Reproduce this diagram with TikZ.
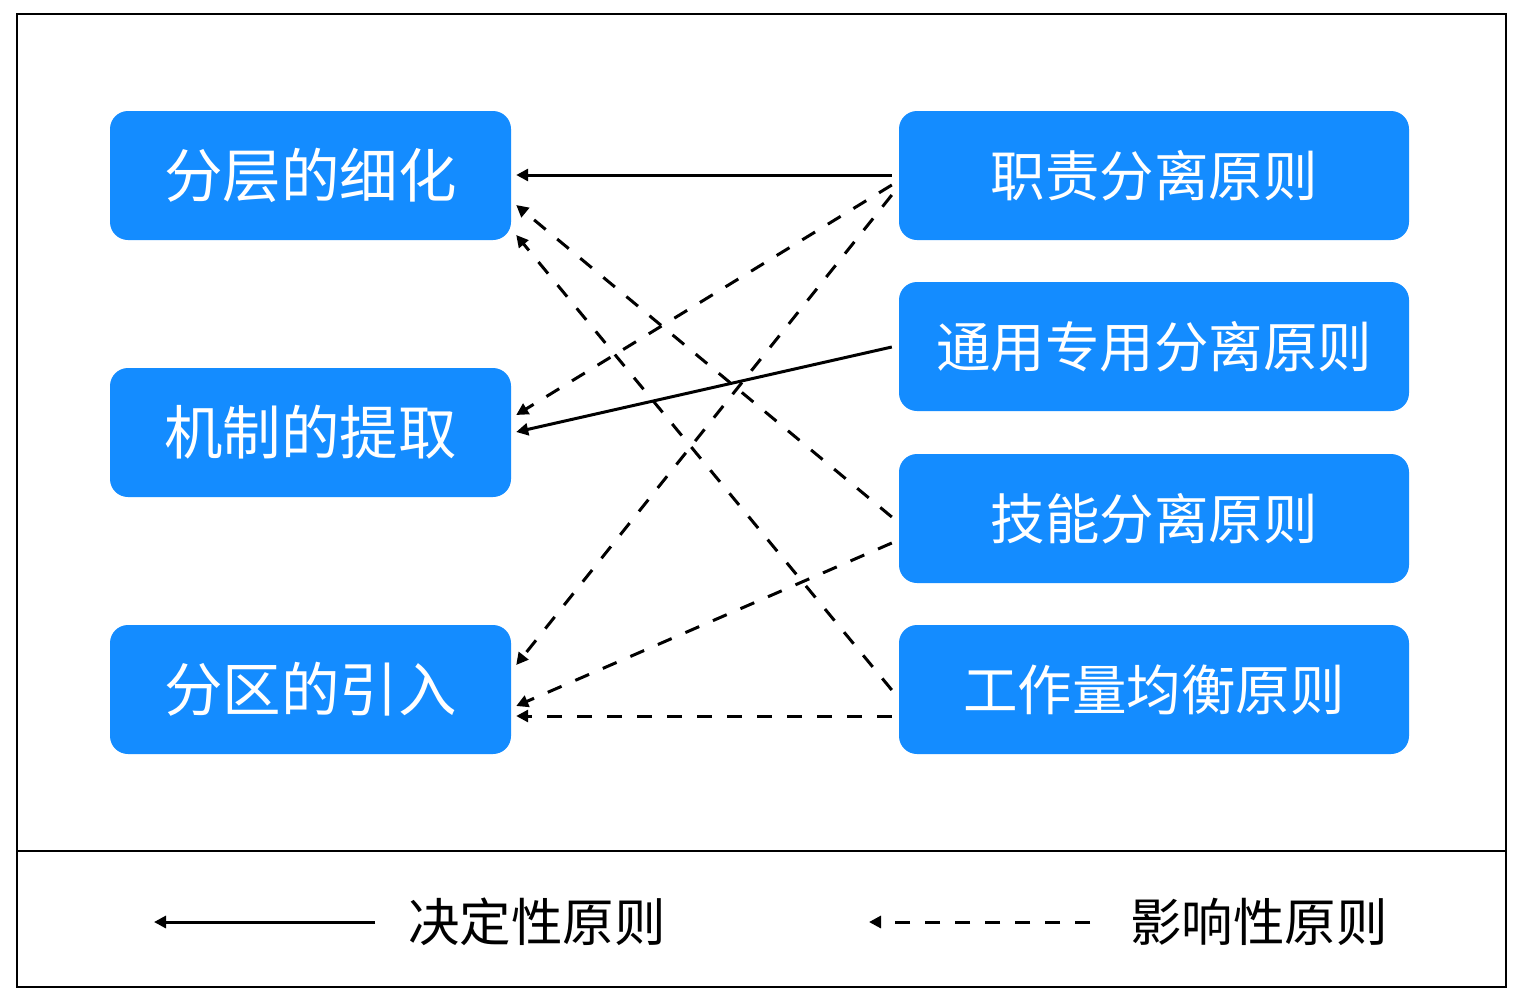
\documentclass[tikz,border=0pt]{standalone}
\usepackage{fontspec}
\newfontfamily\cjk{Noto Sans CJK SC}
\usetikzlibrary{arrows.meta,calc}
\definecolor{boxblue}{RGB}{20,140,255}
\begin{document}
\begin{tikzpicture}[x=1pt,y=-1pt,
  box/.style={fill=boxblue,rounded corners=18pt,text=white,inner sep=0pt,minimum height=129pt},
  lbox/.style={box,minimum width=401pt,font=\cjk\fontsize{58.5}{60}\selectfont},
  rbox/.style={box,minimum width=510pt,font=\cjk\fontsize{54.5}{60}\selectfont},
  con/.style={line width=3pt,-{Triangle[length=12pt,width=12pt]}},
  dcon/.style={con,dash pattern=on 15pt off 15pt},
  legtext/.style={font=\cjk\fontsize{51.5}{56}\selectfont,anchor=west,inner sep=0pt}]
\useasboundingbox (0,0) rectangle (1522,1002);
\fill[white] (0,0) rectangle (1522,1002);
\draw[line width=2.5pt] (17,14) rectangle (1506,987);
\draw[line width=2.5pt] (17,851) -- (1506,851);
% left boxes
\node[lbox] (L1) at (310.5,175.5) {分层的细化};
\node[lbox] (L2) at (310.5,432.5) {机制的提取};
\node[lbox] (L3) at (310.5,689.5) {分区的引入};
% right boxes
\node[rbox] (R1) at (1154,175.5) {职责分离原则};
\node[rbox] (R2) at (1154,346.5) {通用专用分离原则};
\node[rbox] (R3) at (1154,518.5) {技能分离原则};
\node[rbox] (R4) at (1154,689.5) {工作量均衡原则};
% connectors
\draw[con]  ($(R1.west)+(-7,-0.5)$) -- ($(L1.east)+(5,-0.5)$);
\draw[dcon] ($(R1.west)+(-7,9.5)$)  -- ($(L2.east)+(5,-17.5)$);
\draw[dcon] ($(R1.west)+(-7,19.5)$) -- ($(L3.east)+(5,-24.5)$);
\draw[con]  ($(R2.west)+(-7,0.5)$)  -- ($(L2.east)+(5,-0.5)$);
\draw[dcon] ($(R3.west)+(-7,-1.5)$) -- ($(L1.east)+(5,29.5)$);
\draw[dcon] ($(R3.west)+(-7,24.5)$) -- ($(L3.east)+(5,16.5)$);
\draw[dcon] ($(R4.west)+(-7,0.5)$)  -- ($(L1.east)+(5,59.5)$);
\draw[dcon] ($(R4.west)+(-7,26.5)$) -- ($(L3.east)+(5,26.5)$);
% legend
\node[legtext] (lt1) at (408,922) {决定性原则};
\node[legtext] (lt2) at (1130,922) {影响性原则};
\draw[con]  ($(lt1.west)+(-33,0)$) -- ($(lt1.west)+(-254,0)$);
\draw[dcon] ($(lt2.west)+(-40,0)$) -- ($(lt2.west)+(-261,0)$);
\end{tikzpicture}
\end{document}
